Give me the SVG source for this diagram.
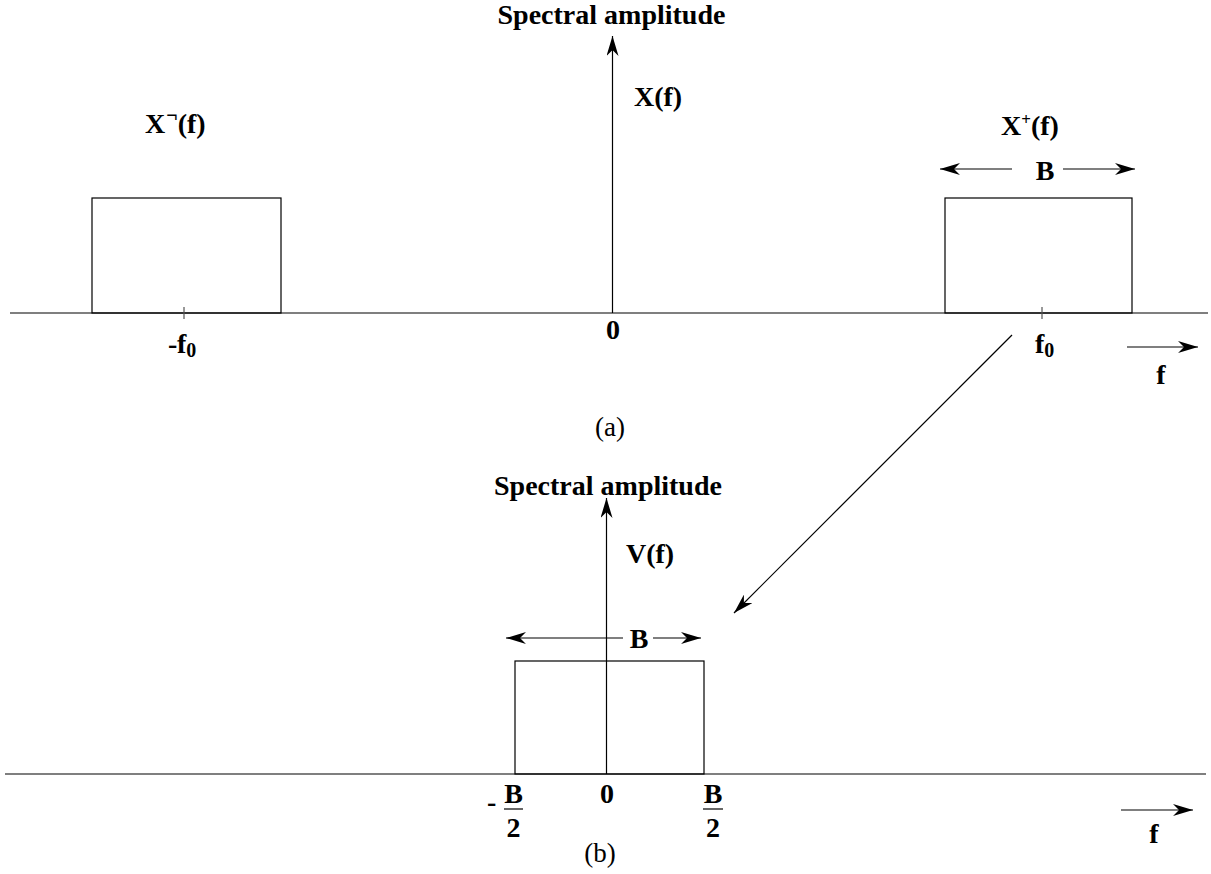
<svg xmlns="http://www.w3.org/2000/svg" width="1211" height="874" viewBox="0 0 1211 874">
<defs>
<marker id="ah" viewBox="0 0 20 12" refX="20" refY="6" markerWidth="20" markerHeight="12" markerUnits="userSpaceOnUse" orient="auto-start-reverse">
<path d="M0,0 L20,6 L0,12 L6,6 Z" fill="#000"/>
</marker>
</defs>
<style>
.ln{stroke:#000;stroke-width:1.2;fill:none}
.bx{stroke:#000;stroke-width:1.2;fill:none}
.tk{stroke:#555;stroke-width:1.2}
.t{font-family:'Liberation Serif','Times New Roman',serif;font-weight:bold;font-size:28px;fill:#000}
.c{font-family:'Liberation Serif','Times New Roman',serif;font-size:27px;fill:#000}
</style>
<g id="connectors">
<line class="ln" x1="10" y1="313" x2="1208" y2="313"/>
<line class="ln" x1="612.5" y1="313" x2="612.5" y2="36" marker-end="url(#ah)"/>
<line class="ln" x1="1012" y1="169" x2="940" y2="169" marker-end="url(#ah)"/>
<line class="ln" x1="1063" y1="169" x2="1135" y2="169" marker-end="url(#ah)"/>
<line class="ln" x1="1127" y1="347" x2="1198" y2="347" marker-end="url(#ah)"/>
<line class="ln" x1="1012" y1="335" x2="734" y2="613" marker-end="url(#ah)"/>
<line class="ln" x1="5" y1="774" x2="1206" y2="774"/>
<line class="ln" x1="606.5" y1="774" x2="606.5" y2="498" marker-end="url(#ah)"/>
<line class="ln" x1="623" y1="638" x2="506" y2="638" marker-end="url(#ah)"/>
<line class="ln" x1="653" y1="638" x2="701" y2="638" marker-end="url(#ah)"/>
<line class="ln" x1="1121" y1="810" x2="1193" y2="810" marker-end="url(#ah)"/>
</g>
<g id="top-title"><text class="t" x="611.5" y="24" text-anchor="middle">Spectral amplitude</text></g>
<g id="X-label"><text class="t" x="634" y="106">X(f)</text></g>
<g id="Xminus">
<rect class="bx" x="92" y="198" width="189" height="115"/>
<line class="tk" x1="184" y1="307" x2="184" y2="319"/>
<text class="t" x="145" y="133">X<tspan font-size="20" dx="1" dy="-11">¬</tspan><tspan dy="11">(f)</tspan></text>
<text class="t" x="168" y="353">-</text>
<text class="t" x="177" y="353">f<tspan font-size="20" dy="4">0</tspan></text>
</g>
<g id="Xplus">
<rect class="bx" x="945" y="198" width="187" height="115"/>
<line class="tk" x1="1042" y1="307" x2="1042" y2="319"/>
<text class="t" x="1001" y="135">X<tspan font-size="17" dy="-10">+</tspan><tspan dy="10">(f)</tspan></text>
<text class="t" x="1045" y="180" text-anchor="middle">B</text>
<text class="t" x="1035" y="353">f<tspan font-size="20" dy="4">0</tspan></text>
</g>
<g id="top-zero"><text class="t" x="613" y="339" text-anchor="middle">0</text></g>
<g id="top-f"><text class="t" x="1161" y="384" text-anchor="middle">f</text></g>
<g id="cap-a"><text class="c" x="610" y="436" text-anchor="middle">(a)</text></g>
<g id="bottom-title"><text class="t" x="608" y="495" text-anchor="middle">Spectral amplitude</text></g>
<g id="V-label"><text class="t" x="626" y="563">V(f)</text></g>
<g id="Vbox">
<rect class="bx" x="515" y="661" width="189" height="113"/>
<text class="t" x="639" y="648" text-anchor="middle">B</text>
</g>
<g id="bottom-ticks">
<text class="t" x="487" y="811">-</text>
<text class="t" x="513.5" y="803" text-anchor="middle">B</text>
<line class="ln" x1="504" y1="809" x2="523" y2="809"/>
<text class="t" x="513.5" y="837" text-anchor="middle">2</text>
<text class="t" x="607" y="803" text-anchor="middle">0</text>
<text class="t" x="713" y="803" text-anchor="middle">B</text>
<line class="ln" x1="703" y1="809" x2="723" y2="809"/>
<text class="t" x="713" y="837" text-anchor="middle">2</text>
</g>
<g id="bottom-f"><text class="t" x="1154" y="843" text-anchor="middle">f</text></g>
<g id="cap-b"><text class="c" x="600" y="862" text-anchor="middle">(b)</text></g>
</svg>
